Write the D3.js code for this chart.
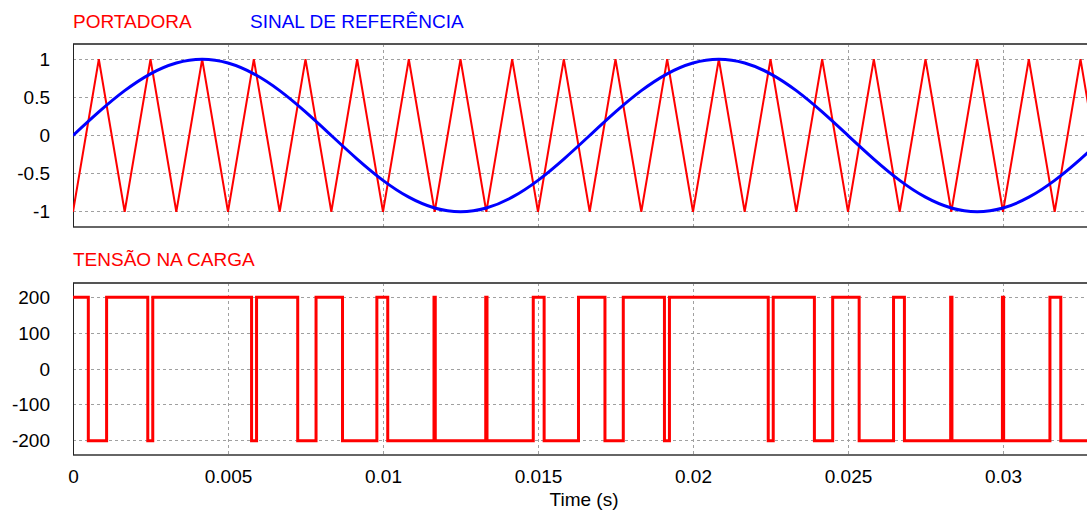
<!DOCTYPE html>
<html><head><meta charset="utf-8">
<script src="https://cdn.jsdelivr.net/npm/d3@7"></script>
<style>
body{margin:0;background:#fff;}
svg{display:block;}
text{font-family:"Liberation Sans",Arial,sans-serif;}
</style>
</head><body>
<svg id="chart" width="1087" height="510"></svg>
<script>
// ---------- data ----------
const timeTicks = [0, 0.005, 0.01, 0.015, 0.02, 0.025, 0.03];
const timeTickLabels = ["0", "0.005", "0.01", "0.015", "0.02", "0.025", "0.03"];
const topTicks = [1, 0.5, 0, -0.5, -1];
const topTickLabels = ["1", "0.5", "0", "-0.5", "-1"];
const bottomTicks = [200, 100, 0, -100, -200];
const bottomTickLabels = ["200", "100", "0", "-100", "-200"];
const seriesNames = ["PORTADORA", "SINAL DE REFERÊNCIA", "TENSÃO NA CARGA"];
const axisTitle = "Time (s)";

// sample instants (s) – triangle vertices
const sampleTime = [0, 0.000833, 0.001667, 0.0025, 0.003333, 0.004167, 0.005, 0.005833, 0.006667, 0.0075,
  0.008333, 0.009167, 0.01, 0.010833, 0.011667, 0.0125, 0.013333, 0.014167, 0.015, 0.015833,
  0.016667, 0.0175, 0.018333, 0.019167, 0.02, 0.020833, 0.021667, 0.0225, 0.023333, 0.024167,
  0.025, 0.025833, 0.026667, 0.0275, 0.028333, 0.029167, 0.03, 0.030833, 0.031667, 0.0325, 0.033333];
// carrier (PORTADORA)
const carrierValue = [-1, 1, -1, 1, -1, 1, -1, 1, -1, 1,
  -1, 1, -1, 1, -1, 1, -1, 1, -1, 1,
  -1, 1, -1, 1, -1, 1, -1, 1, -1, 1,
  -1, 1, -1, 1, -1, 1, -1, 1, -1, 1, -1];
// reference (SINAL DE REFERÊNCIA)
const referenceValue = [0, 0.309, 0.588, 0.809, 0.951, 1, 0.951, 0.809, 0.588, 0.309,
  0, -0.309, -0.588, -0.809, -0.951, -1, -0.951, -0.809, -0.588, -0.309,
  0, 0.309, 0.588, 0.809, 0.951, 1, 0.951, 0.809, 0.588, 0.309,
  0, -0.309, -0.588, -0.809, -0.951, -1, -0.951, -0.809, -0.588, -0.309, 0];
// load voltage (TENSÃO NA CARGA) – switching instants and level after each
const loadTime = [0, 0.000494, 0.001084, 0.002412, 0.002573, 0.005760, 0.005921, 0.007249, 0.007840, 0.008694,
  0.009802, 0.010153, 0.011645, 0.011686, 0.013314, 0.013355, 0.014847, 0.015198, 0.016306, 0.017160,
  0.017751, 0.019079, 0.019240, 0.022427, 0.022588, 0.023916, 0.024506, 0.025360, 0.026469, 0.026820,
  0.028312, 0.028353, 0.029981, 0.030021, 0.031514, 0.031864, 0.032973];
const loadVolt = [200, -200, 200, -200, 200, -200, 200, -200, 200, -200,
  200, -200, 200, -200, 200, -200, 200, -200, 200, -200,
  200, -200, 200, -200, 200, -200, 200, -200, 200, -200,
  200, -200, 200, -200, 200, -200, 200];

// ---------- layout ----------
const svg = d3.select("#chart");
const L = 73, R = 1087, pxPerSec = 31000;
const x = d3.scaleLinear().domain([0, (R - L) / pxPerSec]).range([L, R]);
const topP = {t: 44, b: 227};
const botP = {t: 283, b: 455};
const yTop = d3.scaleLinear().domain([-1.2, 1.2]).range([topP.b, topP.t]);
const yBot = d3.scaleLinear().domain([-240, 240]).range([botP.b, botP.t]);
const FS = "19px";
const gridColor = "#a0a0a0";

const defs = svg.append("defs");
[["clipTop", topP], ["clipBot", botP]].forEach(([id, p]) => {
  defs.append("clipPath").attr("id", id).append("rect")
    .attr("x", L).attr("y", p.t).attr("width", R - L + 5).attr("height", p.b - p.t);
});

function panel(p, y, ticks, labels) {
  const g = svg.append("g");
  // horizontal grid
  g.selectAll(".hg").data(ticks).join("line")
    .attr("x1", L).attr("x2", R).attr("y1", d => y(d)).attr("y2", d => y(d))
    .attr("stroke", gridColor).attr("stroke-width", 1).attr("stroke-dasharray", "3,3")
    .attr("shape-rendering", "crispEdges");
  // vertical grid
  g.selectAll(".vg").data(timeTicks.filter(d => d > 0)).join("line")
    .attr("x1", d => Math.round(x(d)) + 0.5).attr("x2", d => Math.round(x(d)) + 0.5)
    .attr("y1", p.t).attr("y2", p.b)
    .attr("stroke", gridColor).attr("stroke-width", 1).attr("stroke-dasharray", "3,3");
  // y axis labels
  const ax = svg.append("g").attr("transform", `translate(${L},0)`)
    .call(d3.axisLeft(y).tickValues(ticks).tickFormat((d, i) => labels[i]).tickSize(0).tickPadding(23));
  ax.select(".domain").remove();
  ax.selectAll("text").attr("font-size", FS).attr("fill", "#000")
    .attr("font-family", '"Liberation Sans",Arial,sans-serif');
  // borders
  svg.append("line").attr("x1", L).attr("x2", R).attr("y1", p.t).attr("y2", p.t)
    .attr("stroke", "#555").attr("stroke-width", 2);
  svg.append("line").attr("x1", L).attr("x2", R).attr("y1", p.b).attr("y2", p.b)
    .attr("stroke", "#333").attr("stroke-width", 1.5);
  svg.append("line").attr("x1", L + 0.5).attr("x2", L + 0.5).attr("y1", p.t).attr("y2", p.b)
    .attr("stroke", "#222").attr("stroke-width", 1);
}

panel(topP, yTop, topTicks, topTickLabels);
panel(botP, yBot, bottomTicks, bottomTickLabels);

// ---------- series ----------
const idx = d3.range(sampleTime.length);
svg.append("g").attr("clip-path", "url(#clipTop)").append("path")
  .attr("d", d3.line().x(i => x(sampleTime[i])).y(i => yTop(carrierValue[i]))(idx))
  .attr("fill", "none").attr("stroke", "#ff0000").attr("stroke-width", 2);
svg.append("g").attr("clip-path", "url(#clipTop)").append("path")
  .attr("d", d3.line().curve(d3.curveNatural).x(i => x(sampleTime[i])).y(i => yTop(referenceValue[i]))(idx))
  .attr("fill", "none").attr("stroke", "#0000ff").attr("stroke-width", 3);

const loadPts = loadTime.map((t, i) => [t, loadVolt[i]]);
loadPts.push([x.domain()[1] + 0.001, loadVolt[loadVolt.length - 1]]);
svg.append("g").attr("clip-path", "url(#clipBot)").append("path")
  .attr("d", d3.line().curve(d3.curveStepAfter).x(d => x(d[0])).y(d => yBot(d[1]))(loadPts))
  .attr("fill", "none").attr("stroke", "#ff0000").attr("stroke-width", 3).attr("stroke-linejoin", "miter");

// ---------- x axis ----------
const xa = svg.append("g").attr("transform", `translate(0,${botP.b})`)
  .call(d3.axisBottom(x).tickValues(timeTicks).tickFormat((d, i) => timeTickLabels[i]).tickSize(0).tickPadding(15));
xa.select(".domain").remove();
xa.selectAll("text").attr("font-size", FS).attr("fill", "#000")
  .attr("font-family", '"Liberation Sans",Arial,sans-serif');

// ---------- titles ----------
svg.append("text").attr("x", L).attr("y", 28).attr("font-size", FS).attr("fill", "#ff0000").text(seriesNames[0]);
svg.append("text").attr("x", 250).attr("y", 28).attr("font-size", FS).attr("fill", "#0000ff").text(seriesNames[1]);
svg.append("text").attr("x", L).attr("y", 266).attr("font-size", FS).attr("fill", "#ff0000").text(seriesNames[2]);
svg.append("text").attr("x", 584).attr("y", 506).attr("font-size", FS).attr("fill", "#000")
  .attr("text-anchor", "middle").text(axisTitle);
</script>
</body></html>
